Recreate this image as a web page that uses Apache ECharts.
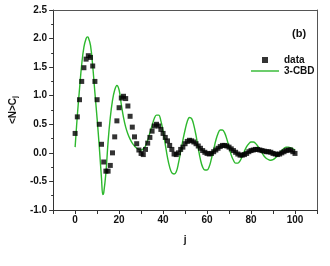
<!DOCTYPE html>
<html><head><meta charset="utf-8">
<script src="https://cdn.jsdelivr.net/npm/echarts@6/dist/echarts.min.js"></script>
<style>html,body{margin:0;padding:0;background:#fff}#c{width:330px;height:266px}</style>
</head><body><div id="c"></div>
<script>
// j = 0..100 measured values
const dataJ = [];
for (let i = 0; i <= 100; i++) dataJ.push(i);
const dataValues = [
 0.34,0.63,0.93,1.25,1.49,1.64,1.70,1.67,1.52,1.25,
 0.93,0.50,0.15,-0.16,-0.32,-0.32,-0.22,0.00,0.28,0.56,
 0.79,0.96,0.99,0.95,0.82,0.64,0.45,0.28,0.16,0.05,
 -0.01,-0.03,0.06,0.17,0.27,0.38,0.47,0.50,0.47,0.41,
 0.34,0.27,0.21,0.13,0.06,-0.02,-0.03,0.00,0.06,0.10,
 0.16,0.20,0.22,0.21,0.19,0.16,0.12,0.08,0.04,0.01,
 -0.01,-0.02,-0.01,0.02,0.05,0.08,0.11,0.13,0.13,0.12,
 0.10,0.07,0.04,0.01,-0.02,-0.04,-0.04,-0.03,-0.01,0.02,
 0.04,0.05,0.06,0.06,0.05,0.04,0.03,0.02,0.02,0.01,
 -0.01,-0.02,-0.03,-0.02,0.00,0.02,0.04,0.05,0.05,0.02,
 -0.01
];
// 3-CBD model curve
const modelJ = [0,1,2,3,4,5,5.6,6,7,8,9,10,11,12,12.6,13,14,15,16,17,18,19,20,21,22,23,24,25,26,27,28,29,30,31,32,33,34,35,36,37,38,39,40,41,42,43,44,45,46,47,48,49,50,51,52,53,54,55,56,57,58,59,60,61,62,63,64,65,66,67,68,69,70,71,72,73,74,75,76,77,78,79,80,81,82,83,84,85,86,87,88,89,90,91,92,93,94,95,96,97,98,99,100];
const modelValues = [0.10,0.65,1.12,1.55,1.85,2.00,2.03,2.02,1.88,1.52,1.05,0.60,0.10,-0.45,-0.73,-0.70,-0.35,0.20,0.62,0.92,1.10,1.18,1.10,0.85,0.62,0.45,0.33,0.24,0.17,0.12,0.08,0.06,0.05,0.07,0.12,0.22,0.35,0.48,0.60,0.66,0.66,0.56,0.38,0.15,-0.08,-0.25,-0.35,-0.37,-0.33,-0.18,0.02,0.22,0.40,0.55,0.62,0.60,0.48,0.30,0.08,-0.12,-0.25,-0.30,-0.30,-0.24,-0.10,0.06,0.22,0.34,0.40,0.40,0.35,0.24,0.10,-0.04,-0.13,-0.18,-0.18,-0.14,-0.06,0.03,0.11,0.16,0.19,0.19,0.17,0.12,0.06,0.00,-0.06,-0.10,-0.12,-0.13,-0.12,-0.09,-0.05,0.00,0.04,0.08,0.10,0.10,0.09,0.07,0.05];
const xTickLabels = [0,20,40,60,80,100];
const yTickLabels = ['-1.0','-0.5','0.0','0.5','1.0','1.5','2.0','2.5'];

const chart = echarts.init(document.getElementById('c'), null, {renderer:'canvas'});
const font = 'Liberation Sans, Arial, sans-serif';
const axisColor = '#333';
const frameAxis = {show:true, onZero:false, lineStyle:{color:'#555', width:1}};
chart.setOption({
  animation:false,
  textStyle:{fontFamily:font},
  title:{text:'(b)', left:287, top:23, textStyle:{fontSize:11, fontWeight:'bold', color:'#111', fontFamily:font}},
  legend:{orient:'vertical', left:246, top:50, itemWidth:28, itemHeight:6, itemGap:1, itemTextGap:3,
    textStyle:{fontSize:10, fontWeight:'bold', color:'#111', fontFamily:font},
    data:[{name:'data', icon:'path://M0,0H10V10H0Z'}, {name:'3-CBD', icon:'path://M0,0H40V2H0Z'}]},
  grid:{left:46, right:13, top:10, bottom:56},
  xAxis:[{type:'value', min:-10, max:110, interval:10,
    name:'j', nameLocation:'middle', nameGap:25,
    nameTextStyle:{fontSize:10, fontWeight:'bold', color:'#111', fontFamily:font},
    axisLine:{onZero:false, lineStyle:{color:axisColor, width:1}},
    axisTick:{inside:false, length:4, lineStyle:{color:axisColor}},
    axisLabel:{margin:5, fontSize:10, fontWeight:'bold', color:'#111', fontFamily:font,
      formatter:function(v){ return xTickLabels.indexOf(v) >= 0 ? String(v) : ''; }},
    splitLine:{show:false}},
   {type:'value', position:'top', min:-10, max:110, interval:10, axisLine:frameAxis,
    axisTick:{show:false}, axisLabel:{show:false}, splitLine:{show:false}}],
  yAxis:[{type:'value', min:-1, max:2.5, interval:0.5,
    name:'<N>C{sub|j}', nameLocation:'middle', nameGap:33, nameRotate:90,
    nameTextStyle:{fontSize:10, fontWeight:'bold', color:'#111', fontFamily:font,
      rich:{sub:{fontSize:7, fontWeight:'bold', color:'#111', verticalAlign:'bottom', padding:[5,0,0,0]}}},
    axisLine:{show:true, onZero:false, lineStyle:{color:axisColor, width:1}},
    axisTick:{inside:false, length:4, lineStyle:{color:axisColor}},
    minorTick:{show:true, splitNumber:2, length:2, lineStyle:{color:axisColor}},
    axisLabel:{margin:6, fontSize:10, fontWeight:'bold', color:'#111', fontFamily:font,
      formatter:function(v){ const s = v.toFixed(1); return yTickLabels.indexOf(s) >= 0 ? s : ''; }},
    splitLine:{show:false}},
   {type:'value', position:'right', min:-1, max:2.5, interval:0.5, axisLine:frameAxis,
    axisTick:{show:false}, axisLabel:{show:false}, splitLine:{show:false}}],
  series:[
    {name:'3-CBD', type:'line', data:modelJ.map((j,i)=>[j, modelValues[i]]), smooth:0.4, symbol:'none',
      lineStyle:{color:'#2db82d', width:1.4}, itemStyle:{color:'#2db82d'}, z:2},
    {name:'data', type:'scatter', data:dataJ.map((j,i)=>[j, dataValues[i]]), symbol:'rect', symbolSize:5,
      itemStyle:{color:'#000'}, z:3}
  ]
});
</script></body></html>
